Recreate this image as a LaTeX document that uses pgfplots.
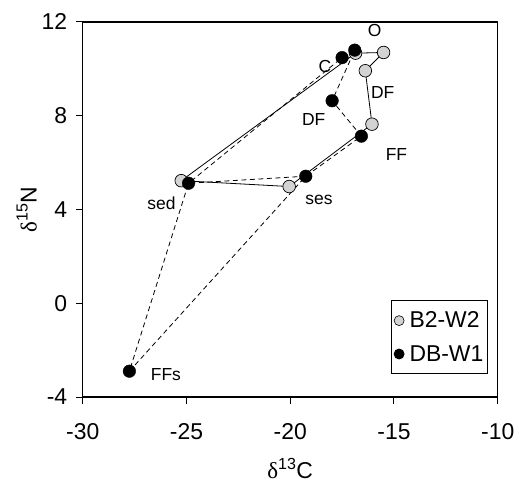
\documentclass[border=0pt]{standalone}
\usepackage{pgfplots}
\pgfplotsset{compat=1.18}
\usepackage{fontspec}
\setmainfont{Liberation Sans}
\newfontfamily\seriffont{Liberation Serif}
\definecolor{lgrey}{RGB}{211,211,211}
\newcommand{\bigfnt}{\fontsize{23}{27}\selectfont}
\newcommand{\labfnt}{\fontsize{17.5}{21}\selectfont}
\begin{document}
\begin{tikzpicture}
\begin{axis}[
  scale only axis, width=415bp, height=375bp,
  xmin=-30, xmax=-10, ymin=-4, ymax=12,
  xtick={-30,-25,-20,-15,-10}, xticklabels={-30,-25,-20,-15,-10},
  ytick={-4,0,4,8,12}, yticklabels={-4,0,4,8,12},
  tick align=outside, xtick pos=left, ytick pos=left,
  major tick length=7bp,
  every tick/.style={black, line width=1bp},
  axis line style={line width=1.3bp},
  tick label style={font=\bigfnt},
  xticklabel style={yshift=-16bp},
  yticklabel style={xshift=-5bp},
  every axis x label/.style={at={(axis description cs:0.5,-0.218)}, anchor=base, font=\bigfnt},
  every axis y label/.style={at={(axis description cs:-0.135,0.5)}, rotate=90, anchor=center, font=\bigfnt},
  xlabel={{\seriffont δ}\textsuperscript{13}C},
  ylabel={{\seriffont δ}\textsuperscript{15}N},
  clip=false,
  legend image code/.code={\filldraw[#1] (0cm,0cm) circle (5bp);},
  legend cell align=left,
  legend style={at={(axis description cs:0.976,0.0613)}, anchor=south east,
    draw=black, line width=0.8bp, fill=white, font=\bigfnt,
    inner xsep=2bp, inner ysep=9bp, row sep=12bp,
    /tikz/every odd column/.append style={column sep=3bp},
    /tikz/every even column/.append style={column sep=0bp}},
]
% B2-W2 solid polygon
\addplot[black, line width=0.8bp, forget plot] coordinates {
  (-25.25,5.23) (-16.85,10.67) (-15.5,10.7) (-16.38,9.92) (-16.06,7.64) (-20.05,4.98) (-25.25,5.23)
};
% DB-W1 dashed
\addplot[black, line width=0.8bp, dash pattern=on 5bp off 3.5bp, forget plot] coordinates {
  (-19.25,5.42) (-24.9,5.12) (-27.75,-2.9) (-19.25,5.42) (-16.57,7.13) (-17.98,8.64) (-16.89,10.8) (-17.5,10.48) (-24.9,5.12)
};
% B2-W2 markers
\addplot[only marks, mark=*, mark size=6.3bp, mark options={fill=lgrey, draw=black, line width=0.7bp}, forget plot] coordinates {
  (-25.25,5.23) (-20.05,4.98) (-16.85,10.67) (-15.5,10.7) (-16.38,9.92) (-16.06,7.64)
};
% DB-W1 markers
\addplot[only marks, mark=*, mark size=6.3bp, mark options={fill=black, draw=black}, forget plot] coordinates {
  (-24.9,5.12) (-19.25,5.42) (-27.75,-2.9) (-17.5,10.48) (-16.89,10.8) (-17.98,8.64) (-16.57,7.13)
};
\addlegendimage{fill=lgrey, draw=black, line width=0.6bp}
\addlegendentry{B2-W2}
\addlegendimage{fill=black, draw=black}
\addlegendentry{DB-W1}
% point labels
\node[font=\labfnt] at (axis cs:-15.93,11.62) {O};
\node[font=\labfnt] at (axis cs:-18.33,10.09) {C};
\node[font=\labfnt] at (axis cs:-15.54,9.01) {DF};
\node[font=\labfnt] at (axis cs:-18.87,7.82) {DF};
\node[font=\labfnt] at (axis cs:-14.88,6.36) {FF};
\node[font=\labfnt] at (axis cs:-26.2,4.26) {sed};
\node[font=\labfnt] at (axis cs:-18.61,4.40) {ses};
\node[font=\labfnt] at (axis cs:-25.99,-3.03) {FFs};
\end{axis}
\pgfresetboundingbox
\path[use as bounding box] (current axis.south west) ++(-82.7bp,-90bp) rectangle ++(532bp,487bp);
\end{tikzpicture}
\end{document}
